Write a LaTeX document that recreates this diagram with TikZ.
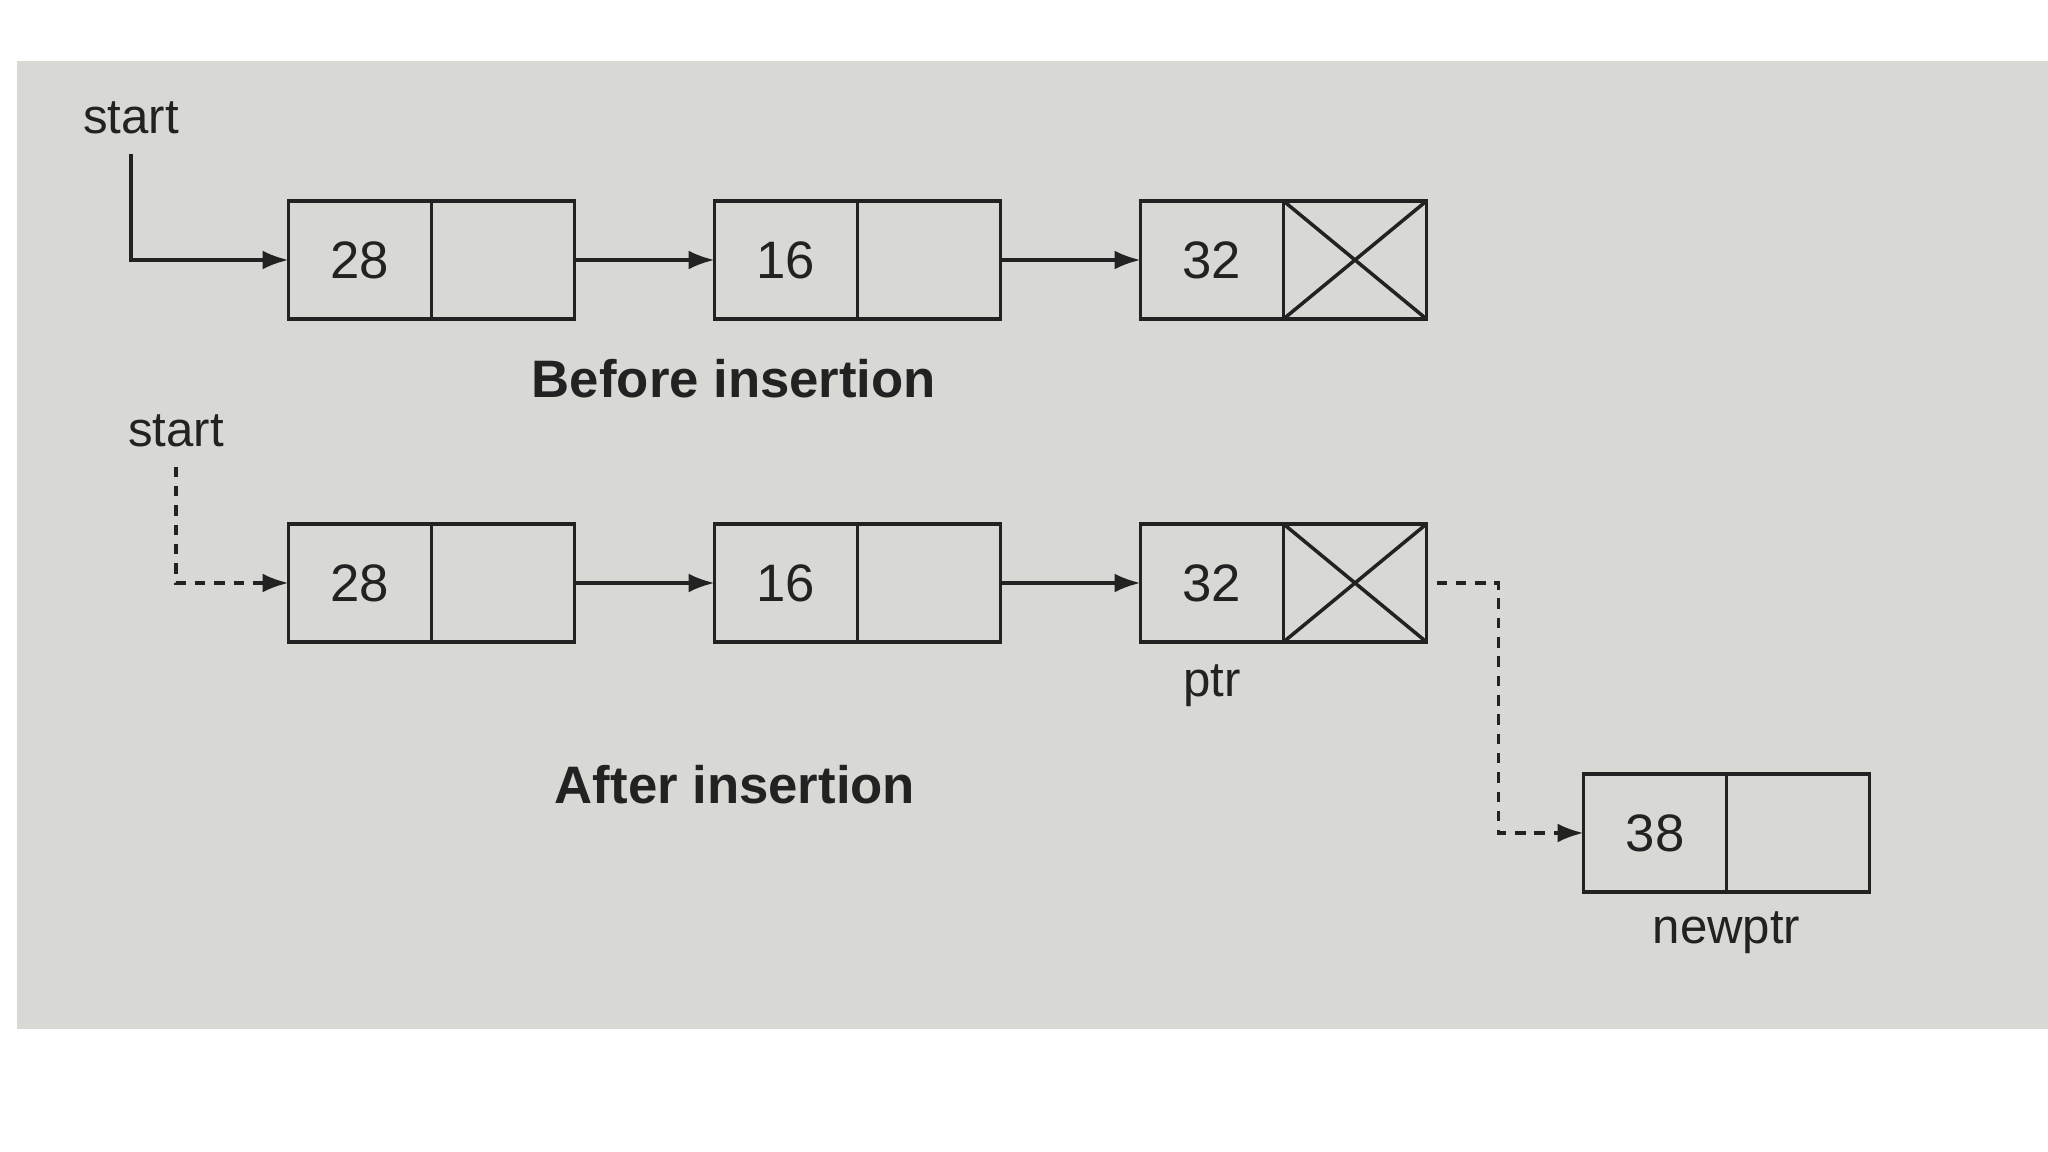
\documentclass[tikz,border=0pt]{standalone}
\usepackage{fontspec}
\setmainfont{Liberation Sans}
\usepackage{xcolor}
\usepackage{tikz}
\usetikzlibrary{arrows.meta, positioning}
\definecolor{paper}{RGB}{216,216,212}
\definecolor{ink}{RGB}{34,34,34}

\begin{document}
\begin{tikzpicture}[
    cell/.style={rectangle, draw=ink, line width=1pt, minimum width=1.43cm, minimum height=1.18cm, outer sep=0pt, font=\fontsize{15}{18}\selectfont, text=ink},
    arr/.style={-{Latex[length=2.6mm, width=1.9mm]}, line width=1pt, ink},
    dasharr/.style={arr, dash pattern=on 3pt off 2.5pt},
    nil/.style={line width=1pt, ink},
    lbl/.style={font=\fontsize{14}{17}\selectfont, ink},
    title/.style={font=\fontsize{15}{18}\selectfont\bfseries, ink},
    node distance=1.4cm,
]
\useasboundingbox (0,0) rectangle (20.48,11.52);
\fill[paper] (0.17,1.23) rectangle (20.48,10.91);

% before insertion
\node[cell] (n28) at (3.60,8.92) {28};
\node[cell, right=0pt of n28] (n28link) {};
\node[cell, right=of n28link] (n16) {16};
\node[cell, right=0pt of n16] (n16link) {};
\node[cell, right=of n16link] (n32) {32};
\node[cell, right=0pt of n32] (n32link) {};
\node[lbl] (start1) at (1.31,10.34) {start};
\node[title] (before) at (7.34,7.73) {Before insertion};

\draw[nil] (n32link.north west) -- (n32link.south east)
           (n32link.south west) -- (n32link.north east);
\draw[arr] ([yshift=-2pt]start1.south) |- (n28);
\draw[arr] (n28link) -- (n16);
\draw[arr] (n16link) -- (n32);

% after insertion
\node[cell] (m28) at (3.60,5.69) {28};
\node[cell, right=0pt of m28] (m28link) {};
\node[cell, right=of m28link] (m16) {16};
\node[cell, right=0pt of m16] (m16link) {};
\node[cell, right=of m16link] (m32) {32};
\node[cell, right=0pt of m32] (m32link) {};
\node[cell] (m38) at (16.55,3.19) {38};
\node[cell, right=0pt of m38] (m38link) {};
\node[lbl] (start2) at (1.76,7.21) {start};
\node[lbl, below=3pt of m32] (ptr) {ptr};
\node[lbl, below=2pt of m38.south east] (newptr) {newptr};
\node[title] (after) at (7.35,3.67) {After insertion};

\draw[nil] (m32link.north west) -- (m32link.south east)
           (m32link.south west) -- (m32link.north east);
\draw[dasharr] ([yshift=-2pt]start2.south) |- (m28);
\draw[arr] (m28link) -- (m16);
\draw[arr] (m16link) -- (m32);
\draw[dasharr] ([xshift=1mm]m32link.east) -- ++(0.62,0) |- (m38);
\end{tikzpicture}
\end{document}
